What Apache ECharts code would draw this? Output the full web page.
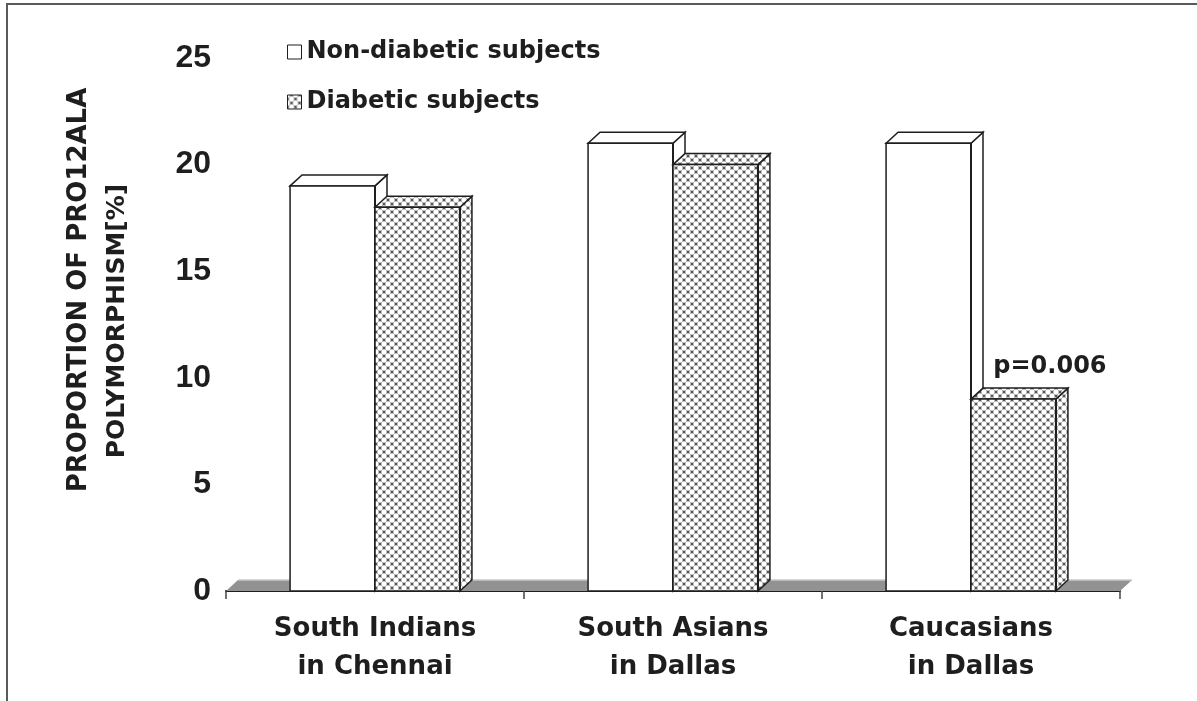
<!DOCTYPE html>
<html>
<head>
<meta charset="utf-8">
<script src="https://cdn.jsdelivr.net/npm/echarts@6/dist/echarts.min.js"></script>
<style>
  html, body { margin: 0; padding: 0; background: #fff; }
  #chart { width: 1197px; height: 701px; }
</style>
</head>
<body>
<div id="chart"></div>
<script>
// Proportion of the Pro12Ala polymorphism by population and diabetic status
const categories = ['South Indians\nin Chennai', 'South Asians\nin Dallas', 'Caucasians\nin Dallas'];
const seriesNames = ['Non-diabetic subjects', 'Diabetic subjects'];
const nonDiabetic = [19, 21, 21];
const diabetic = [18, 20, 9];
const yTicks = { min: 0, max: 25, interval: 5 };
const annotations = ['', '', 'p=0.006'];   // notes over the diabetic bars
const yNameLines = ['PROPORTION OF PRO12ALA', 'POLYMORPHISM[%]'];

// 3D extrusion of bars and floor
const DX = 12, DY = 11;
const INK = '#1e1e1e';

// Cross-hatched fill tile for the diabetic bars
function makeHatch() {
  const c = document.createElement('canvas');
  c.width = 8; c.height = 8;
  const g = c.getContext('2d');
  g.fillStyle = '#555555';
  g.fillRect(0, 0, 8, 8);
  g.fillStyle = '#ffffff';
  [[0, 0], [8, 0], [0, 8], [8, 8], [4, 4]].forEach(function (p) {
    g.beginPath();
    g.arc(p[0], p[1], 2.7, 0, Math.PI * 2);
    g.fill();
  });
  return c;
}
const hatch = { image: makeHatch(), repeat: 'repeat' };

function barRenderer(side, fill) {
  return function (params, api) {
    const idx = api.value(0);
    const val = api.value(1);
    const base = api.coord([idx, 0]);
    const top = api.coord([idx, val]);
    const band = api.size([1, 0])[0];
    const w = band * 0.285;
    const x0 = side === 0 ? base[0] - w : base[0];
    const x1 = x0 + w;
    const yb = base[1], yt = top[1];
    const lineStyle = { fill: fill, stroke: INK, lineWidth: 1.5, lineJoin: 'miter' };
    const children = [
      { type: 'polygon', shape: { points: [[x1, yb], [x1 + DX, yb - DY], [x1 + DX, yt - DY], [x1, yt]] }, style: lineStyle },
      { type: 'polygon', shape: { points: [[x0, yt], [x0 + DX, yt - DY], [x1 + DX, yt - DY], [x1, yt]] }, style: lineStyle },
      { type: 'rect', shape: { x: x0, y: yt, width: w, height: yb - yt }, style: lineStyle },
      { type: 'line', shape: { x1: x1, y1: yt, x2: x1, y2: yb }, style: { stroke: INK, lineWidth: 2 } }
    ];
    const note = side === 1 ? annotations[idx] : '';
    if (note) {
      children.push({
        type: 'text',
        style: {
          text: note, x: x1 - 6, y: yt - 32,
          align: 'center', verticalAlign: 'middle',
          font: 'bold 24px "DejaVu Sans"', fill: INK
        }
      });
    }
    return { type: 'group', children: children };
  };
}

function floorRenderer(params, api) {
  const cs = params.coordSys;
  const x0 = cs.x, x1 = cs.x + cs.width;
  const yb = api.coord([0, 0])[1];
  return {
    type: 'group',
    children: [
      { type: 'polygon', shape: { points: [[x0, yb], [x0 + DX, yb - DY], [x1 + DX, yb - DY], [x1, yb]] },
        style: { fill: '#929292', stroke: null } },
      { type: 'line', shape: { x1: x0 + DX, y1: yb - DY, x2: x1 + DX, y2: yb - DY },
        style: { stroke: '#c8c8c8', lineWidth: 1.5 } }
    ]
  };
}

const chart = echarts.init(document.getElementById('chart'), null, { renderer: 'canvas' });

chart.setOption({
  backgroundColor: '#ffffff',
  animation: false,
  grid: { left: 226, right: 77, top: 58, bottom: 110 },
  legend: {
    data: seriesNames,
    orient: 'vertical',
    left: 282, top: 35,
    itemWidth: 14, itemHeight: 14,
    itemGap: 26,
    icon: 'rect',
    itemStyle: { borderColor: INK, borderWidth: 1 },
    textStyle: { fontFamily: 'DejaVu Sans', fontWeight: 'bold', fontSize: 24, color: INK, padding: [0, 0, 0, 0] }
  },
  xAxis: {
    type: 'category',
    data: categories,
    boundaryGap: true,
    axisLine: { show: true, lineStyle: { color: INK, width: 2 } },
    axisTick: { show: true, length: 8, lineStyle: { color: '#444', width: 1.5 } },
    axisLabel: {
      margin: 19, lineHeight: 38,
      fontFamily: 'DejaVu Sans', fontWeight: 'bold', fontSize: 26, color: INK
    },
    splitLine: { show: false }
  },
  yAxis: {
    type: 'value',
    min: yTicks.min, max: yTicks.max, interval: yTicks.interval,
    axisLine: { show: false },
    axisTick: { show: false },
    splitLine: { show: false },
    axisLabel: {
      margin: 15,
      fontFamily: 'Liberation Sans', fontWeight: 'bold', fontSize: 32, color: INK
    }
  },
  graphic: [
    { type: 'line', shape: { x1: 6, y1: 4, x2: 1197, y2: 4 }, style: { stroke: '#5a5a5a', lineWidth: 2 } },
    { type: 'line', shape: { x1: 7, y1: 3, x2: 7, y2: 701 }, style: { stroke: '#5a5a5a', lineWidth: 2 } },
    { type: 'text', x: 79, y: 290, rotation: Math.PI / 2,
      style: { text: yNameLines[0], font: 'bold 26px "DejaVu Sans"', fill: INK, align: 'center', verticalAlign: 'middle' } },
    { type: 'text', x: 117, y: 321, rotation: Math.PI / 2,
      style: { text: yNameLines[1], font: 'bold 25px "DejaVu Sans"', fill: INK, align: 'center', verticalAlign: 'middle' } }
  ],
  series: [
    {
      type: 'custom', name: 'floor', silent: true, z: 1,
      data: [[0, 0]], encode: { x: 0, y: 1 },
      renderItem: floorRenderer
    },
    {
      type: 'custom', name: seriesNames[0], z: 2,
      itemStyle: { color: '#ffffff', borderColor: INK, borderWidth: 1 },
      data: nonDiabetic.map(function (v, i) { return [i, v]; }),
      encode: { x: 0, y: 1 },
      renderItem: barRenderer(0, '#ffffff')
    },
    {
      type: 'custom', name: seriesNames[1], z: 3,
      itemStyle: { color: hatch, borderColor: INK, borderWidth: 1 },
      data: diabetic.map(function (v, i) { return [i, v]; }),
      encode: { x: 0, y: 1 },
      renderItem: barRenderer(1, hatch)
    }
  ]
});
</script>
</body>
</html>
